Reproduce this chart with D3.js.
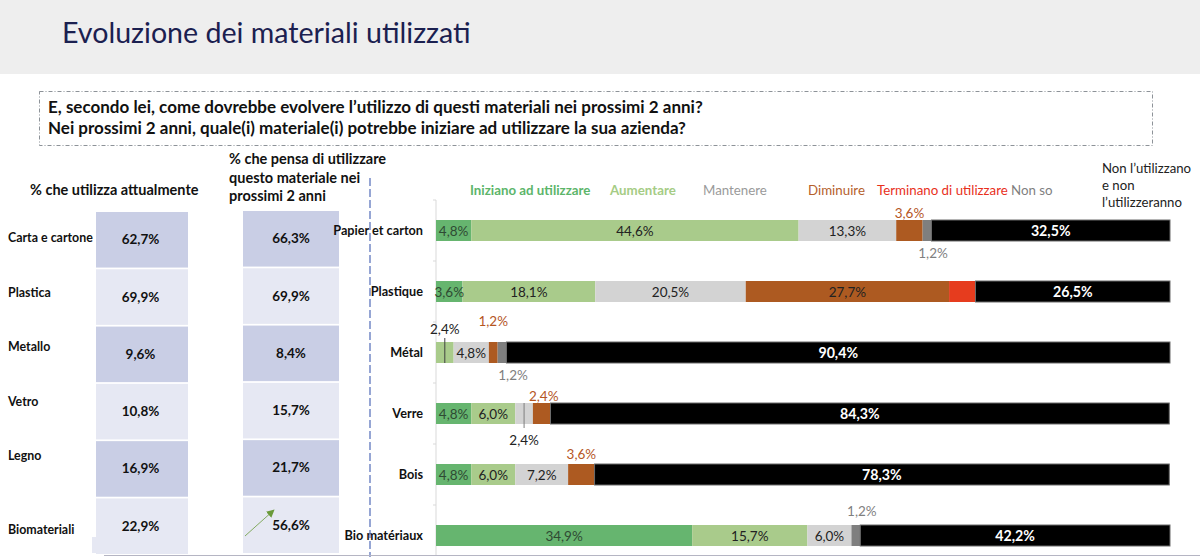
<!DOCTYPE html>
<html lang="it">
<head>
<meta charset="utf-8">
<title>Evoluzione dei materiali utilizzati</title>
<script src="https://cdn.jsdelivr.net/npm/d3@7"></script>
<style>
  html, body { margin: 0; padding: 0; background: #fff; overflow: hidden; }
  svg { display: block; font-family: Lato, "Open Sans", sans-serif; white-space: pre; }
</style>
</head>
<body>
<svg id="chart" width="1200" height="557"></svg>
<script>
"use strict";

/* chart text */
const titleText = "Evoluzione dei materiali utilizzati";
const questionLines = [
  "E, secondo lei, come dovrebbe evolvere l’utilizzo di questi materiali nei prossimi 2 anni?",
  "Nei prossimi 2 anni, quale(i) materiale(i) potrebbe iniziare ad utilizzare la sua azienda?"
];
const currentHeader = ["% che utilizza attualmente"];
const futureHeader = ["% che  pensa di utilizzare", "questo materiale nei", "prossimi 2 anni"];
const noUseHeader = ["Non l’utilizzano", "e non", "l’utilizzeranno"];

/* left tables */
const materialsIt = ["Carta e cartone", "Plastica", "Metallo", "Vetro", "Legno", "Biomateriali"];
const currentUse = [62.7, 69.9, 9.6, 10.8, 16.9, 22.9];
const futureUse = [66.3, 69.9, 8.4, 15.7, 21.7, 56.6];

/* stacked bars */
const materialsFr = ["Papier et carton", "Plastique", "Métal", "Verre", "Bois", "Bio matériaux"];
const seriesNames = ["Iniziano ad utilizzare", "Aumentare", "Mantenere", "Diminuire", "Terminano di utilizzare", "Non so", "Non l’utilizzano"];
const startUsing = [4.8, 3.6, 0, 4.8, 4.8, 34.9];
const increase = [44.6, 18.1, 2.4, 6.0, 6.0, 15.7];
const keep = [13.3, 20.5, 4.8, 2.4, 7.2, 6.0];
const decrease = [3.6, 27.7, 1.2, 2.4, 3.6, 0];
const stopUsing = [0, 3.6, 0, 0, 0, 0];
const dontKnow = [1.2, 0, 1.2, 0, 0, 1.2];
const noUse = [32.5, 26.5, 90.4, 84.3, 78.3, 42.2];

const seriesValues = [startUsing, increase, keep, decrease, stopUsing, dontKnow, noUse];
const seriesColors = ["#66b56f", "#a9cb8b", "#d3d3d3", "#ad5a21", "#e63c1e", "#7f7f7f", "#000000"];
const legendColors = ["#5cb56a", "#a5cc85", "#9a9a9a", "#b5602c", "#e8301c", "#7f7f7f"];

/* labels that sit outside of their segment: [material, series, dx, dy, color] */
const outsideLabels = [
  ["Papier et carton", "Diminuire", 0, -18, "#b5561f"],
  ["Papier et carton", "Non so", 6, 22, "#7f7f7f"],
  ["Métal", "Aumentare", 0, -24, "#222222"],
  ["Métal", "Diminuire", 0, -32, "#b5561f"],
  ["Métal", "Non so", 11, 22, "#7f7f7f"],
  ["Verre", "Mantenere", 0, 26, "#222222"],
  ["Verre", "Diminuire", 2, -18, "#b5561f"],
  ["Bois", "Diminuire", 0, -21, "#b5561f"],
  ["Bio matériaux", "Non so", 6, -25, "#7f7f7f"]
];

const svg = d3.select("#chart");
const locale = d3.formatLocale({decimal: ",", thousands: ".", grouping: [3], currency: ["", "€"]});
const formatNumber = locale.format(".1f");
const formatPct = function(v) { return formatNumber(v) + "%"; };

/* Draw lines of text, one under the other */
function textLines(parent, lines, x, y, step) {
  return parent.append("text")
    .attr("x", x)
    .attr("y", y)
    .selectAll("tspan")
    .data(lines)
    .join("tspan")
    .attr("x", x)
    .attr("y", function(d, i) { return y + i * step; })
    .text(function(d) { return d; });
}


function drawHeader() {
  svg.append("rect")
    .attr("width", 1200).attr("height", 74)
    .attr("fill", "#eeeeee");

  svg.append("text")
    .attr("x", 62).attr("y", 43)
    .attr("font-size", 28.6)
    .attr("font-weight", 400)
    .attr("fill", "#1b2050")
    .text(titleText);

  svg.append("rect")
    .attr("x", 39.5).attr("y", 91.5)
    .attr("width", 1113).attr("height", 54)
    .attr("fill", "none")
    .attr("stroke", "#8d9298")
    .attr("stroke-dasharray", "4 2 1 2");

  let question = svg.append("g")
    .attr("font-size", 17)
    .attr("font-weight", 700)
    .attr("fill", "#111");
  textLines(question, questionLines, 48, 113, 21);
}


/* One column of the left tables */
function drawTable(values, x0, x1, top, textX) {
  let y = d3.scaleBand().domain(materialsIt).range([top, top + 342]).paddingInner(0.03).paddingOuter(0);
  let column = svg.append("g");

  column.selectAll("rect")
    .data(values)
    .join("rect")
    .attr("x", x0)
    .attr("y", function(d, i) { return y(materialsIt[i]); })
    .attr("width", x1 - x0)
    .attr("height", y.bandwidth())
    .attr("fill", function(d, i) { return i % 2 ? "#e6e8f3" : "#c9cee5"; });

  column.selectAll("text")
    .data(values)
    .join("text")
    .attr("x", textX)
    .attr("y", function(d, i) { return y(materialsIt[i]) + y.bandwidth() / 2 + 4.5; })
    .attr("text-anchor", "middle")
    .attr("font-size", 13.5)
    .attr("font-weight", 700)
    .attr("fill", "#111")
    .text(formatPct);
}


function drawTables() {
  /* small overhang of the last cell */
  svg.append("rect")
    .attr("x", 92).attr("y", 537)
    .attr("width", 6).attr("height", 16)
    .attr("fill", "#e6e8f3");

  drawTable(currentUse, 96, 188, 212, 140.5);
  drawTable(futureUse, 243, 339, 211, 291);

  let labelY = d3.scalePoint().domain(materialsIt).range([242, 514.5]);
  svg.append("g")
    .selectAll("text")
    .data(materialsIt)
    .join("text")
    .attr("x", 8)
    .attr("y", function(d) { return labelY(d) + (d === "Biomateriali" ? 19 : 0); })
    .attr("font-size", 12.4)
    .attr("font-weight", 700)
    .attr("fill", "#111")
    .text(function(d) { return d; });

  let headers = svg.append("g")
    .attr("font-size", 14.5)
    .attr("font-weight", 700)
    .attr("fill", "#111");
  textLines(headers, currentHeader, 30, 195, 0);
  textLines(headers, futureHeader, 229, 164, 18.5);

  /* green arrow on the biomaterials cell */
  svg.append("defs").append("marker")
    .attr("id", "arrow-head")
    .attr("viewBox", "0 0 10 10")
    .attr("refX", 9).attr("refY", 5)
    .attr("markerWidth", 8).attr("markerHeight", 8)
    .attr("markerUnits", "userSpaceOnUse")
    .attr("orient", "auto")
    .append("path")
    .attr("d", "M0,0L10,5L0,10z")
    .attr("fill", "#6a9a3a");
  svg.append("line")
    .attr("x1", 245).attr("y1", 536)
    .attr("x2", 274).attr("y2", 510)
    .attr("stroke", "#6a9a3a")
    .attr("stroke-width", 0.8)
    .attr("marker-end", "url(#arrow-head)");
}


function drawBars() {
  let rows = materialsFr.map(function(name, i) {
    let row = {name: name};
    seriesNames.forEach(function(s, j) { row[s] = seriesValues[j][i]; });
    return row;
  });
  let stacked = d3.stack().keys(seriesNames)(rows);

  let x = d3.scaleLinear().domain([0, 100]).range([436, 1170]);
  let y = d3.scaleBand().domain(materialsFr).range([200, 566]).paddingInner(40 / 61).paddingOuter(20 / 61);
  let color = d3.scaleOrdinal().domain(seriesNames).range(seriesColors);

  /* category axis, its ticks fall between the bars */
  let axis = svg.append("g")
    .attr("transform", "translate(436,0)")
    .call(d3.axisLeft(y).tickSize(0).tickPadding(13));
  axis.select(".domain").remove();
  axis.selectAll("text")
    .attr("font-family", "Lato, sans-serif")
    .attr("font-size", 12.7)
    .attr("font-weight", 700)
    .attr("fill", "#111");

  let separators = d3.range(0, 6).map(function(i) { return y.range()[0] + i * y.step(); });
  svg.append("g")
    .selectAll("line")
    .data(separators)
    .join("line")
    .attr("x1", 433).attr("x2", 436)
    .attr("y1", function(d) { return d; })
    .attr("y2", function(d) { return d; })
    .attr("stroke", "#d9d9d9");
  svg.append("line")
    .attr("x1", 436).attr("x2", 436)
    .attr("y1", 200).attr("y2", 555)
    .attr("stroke", "#d9d9d9");

  /* stacked segments */
  svg.append("g")
    .selectAll("g")
    .data(stacked)
    .join("g")
    .attr("fill", function(d) { return color(d.key); })
    .each(function(layer) {
      d3.select(this).selectAll("rect")
        .data(layer.filter(function(d) { return d[1] > d[0]; }))
        .join("rect")
        .attr("x", function(d) { return x(d[0]); })
        .attr("y", function(d) { return y(d.data.name); })
        .attr("width", function(d) { return x(d[1]) - x(d[0]); })
        .attr("height", y.bandwidth())
        .attr("stroke", layer.key === "Non l’utilizzano" ? "#6b6b6b" : "none");
    });

  /* labels inside the segments */
  function segment(name, key) {
    let layer = stacked[seriesNames.indexOf(key)];
    return layer[materialsFr.indexOf(name)];
  }
  let outsideKeys = outsideLabels.map(function(d) { return d[0] + "|" + d[1]; });
  let inside = [];
  stacked.forEach(function(layer) {
    layer.forEach(function(d) {
      let value = d[1] - d[0];
      let key = d.data.name + "|" + layer.key;
      /* the red segment carries no label in the picture */
      if (value > 0.01 && outsideKeys.indexOf(key) < 0 && layer.key !== "Terminano di utilizzare") {
        inside.push({series: layer.key, name: d.data.name, d: d, value: d.data[layer.key]});
      }
    });
  });

  svg.append("g")
    .selectAll("text")
    .data(inside)
    .join("text")
    .attr("x", function(d) { return x((d.d[0] + d.d[1]) / 2); })
    .attr("y", function(d) { return y(d.name) + y.bandwidth() / 2 + 5; })
    .attr("text-anchor", "middle")
    .attr("font-size", function(d) { return d.series === "Non l’utilizzano" ? 14.2 : 13.5; })
    .attr("font-weight", function(d) { return d.series === "Non l’utilizzano" ? 700 : 400; })
    .attr("fill", function(d) {
      if (d.series === "Non l’utilizzano") return "#fff";
      return d.series === "Iniziano ad utilizzare" ? "#2f4a33" : "#222";
    })
    .text(function(d) { return formatPct(d.value); });

  /* labels moved out of the thin segments */
  svg.append("g")
    .selectAll("text")
    .data(outsideLabels)
    .join("text")
    .attr("x", function(d) {
      let s = segment(d[0], d[1]);
      return x((s[0] + s[1]) / 2) + d[2];
    })
    .attr("y", function(d) { return y(d[0]) + y.bandwidth() / 2 + d[3] + 5; })
    .attr("text-anchor", "middle")
    .attr("font-size", 13.5)
    .attr("fill", function(d) { return d[4]; })
    .text(function(d) { return formatPct(segment(d[0], d[1]).data[d[1]]); });

  /* leader lines of the two thin labelled segments */
  let metal = segment("Métal", "Aumentare");
  svg.append("line")
    .attr("x1", x((metal[0] + metal[1]) / 2)).attr("x2", x((metal[0] + metal[1]) / 2))
    .attr("y1", y("Métal") - 4).attr("y2", y("Métal") + y.bandwidth())
    .attr("stroke", "#404040");
  let glass = segment("Verre", "Mantenere");
  svg.append("line")
    .attr("x1", x((glass[0] + glass[1]) / 2)).attr("x2", x((glass[0] + glass[1]) / 2))
    .attr("y1", y("Verre")).attr("y2", y("Verre") + y.bandwidth() + 4)
    .attr("stroke", "#7f7f7f");
}


function drawLegend() {
  let legendX = [470, 610, 703, 808, 877, 1011];
  svg.append("g")
    .selectAll("text")
    .data(seriesNames.slice(0, 6))
    .join("text")
    .attr("x", function(d, i) { return legendX[i]; })
    .attr("y", 194.5)
    .attr("font-size", 13.3)
    .attr("font-weight", function(d, i) { return i < 2 ? 700 : 400; })
    .attr("fill", function(d, i) { return legendColors[i]; })
    .text(function(d) { return d; });

  let last = svg.append("g")
    .attr("font-size", 13.2)
    .attr("fill", "#222");
  textLines(last, noUseHeader, 1102, 173, 17);
}


function drawRules() {
  svg.append("line")
    .attr("x1", 370).attr("x2", 370)
    .attr("y1", 178).attr("y2", 557)
    .attr("stroke", "#6a80c2")
    .attr("stroke-width", 1.4)
    .attr("stroke-dasharray", "8 3");
  svg.append("line")
    .attr("x1", 104).attr("x2", 1200)
    .attr("y1", 555.5).attr("y2", 555.5)
    .attr("stroke", "#b5b5c3");
}


drawHeader();
drawTables();
drawBars();
drawLegend();
drawRules();
</script>
</body>
</html>
